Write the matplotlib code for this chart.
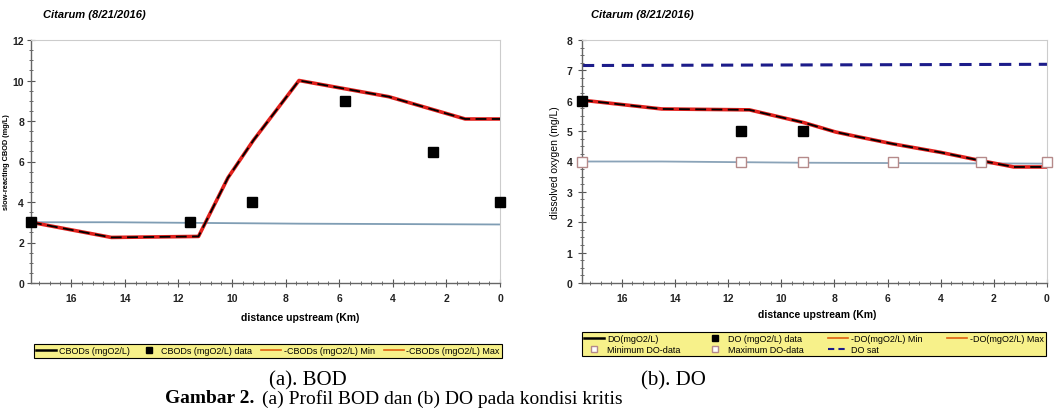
import matplotlib.pyplot as plt
from matplotlib.lines import Line2D
from matplotlib.ticker import MultipleLocator

plt.rcParams['font.family'] = ['Liberation Sans Narrow', 'Liberation Sans', 'DejaVu Sans']

# BOD panel
bod_model_x = [17.5, 14.5, 11.25, 10.15, 9.2, 7.5, 4.15, 1.3, 0.0]
bod_model_y = [3.0, 2.25, 2.3, 5.2, 7.05, 10.0, 9.2, 8.1, 8.1]
bod_data_x = [17.5, 11.55, 9.25, 5.8, 2.5, 0.0]
bod_data_y = [3.0, 3.0, 4.0, 9.0, 6.45, 4.0]
bod_base_x = [17.5, 14.5, 7.5, 0.0]
bod_base_y = [3.0, 3.0, 2.93, 2.89]

# DO panel
do_model_x = [17.5, 14.5, 11.2, 9.15, 7.95, 7.2, 5.8, 4.0, 2.5, 1.25, 0.0]
do_model_y = [6.02, 5.73, 5.7, 5.28, 4.97, 4.83, 4.58, 4.3, 4.03, 3.82, 3.82]
do_data_x = [17.5, 11.5, 9.2]
do_data_y = [6.0, 5.0, 5.0]
do_minmax_x = [17.5, 11.5, 9.2, 5.8, 2.5, 0.0]
do_minmax_y = [4.0, 4.0, 4.0, 4.0, 4.0, 4.0]
do_base_x = [17.5, 14.5, 9.2, 0.0]
do_base_y = [4.0, 4.0, 3.96, 3.93]
do_sat_x = [17.5, 0.0]
do_sat_y = [7.16, 7.2]

W, H = 1061, 410
fig = plt.figure(figsize=(W / 100, H / 100), dpi=100)

def px_box(x0, x1, ytop, ybot):
    return [x0 / W, 1 - ybot / H, (x1 - x0) / W, (ybot - ytop) / H]

ax1 = fig.add_axes(px_box(31, 500, 41, 284))
ax2 = fig.add_axes(px_box(582, 1047, 41, 284))

red = '#e0201c'
legend_bg = '#f7f18a'


def style_axes(ax, ymax, ymajor, yminor, ypad):
    ax.set_xlim(17.5, 0)
    ax.set_ylim(0, ymax)
    ax.xaxis.set_major_locator(MultipleLocator(2))
    ax.xaxis.set_minor_locator(MultipleLocator(0.4))
    ax.yaxis.set_major_locator(MultipleLocator(ymajor))
    ax.yaxis.set_minor_locator(MultipleLocator(yminor))
    ax.tick_params(axis='both', which='major', direction='inout', length=6,
                   width=0.8, color='#555555', labelsize=7.5)
    ax.tick_params(axis='x', which='major', pad=4)
    ax.tick_params(axis='y', which='major', pad=ypad)
    ax.tick_params(axis='both', which='minor', direction='inout', length=3,
                   width=0.6, color='#555555')
    for s in ['left', 'bottom']:
        ax.spines[s].set_color('#666666')
        ax.spines[s].set_linewidth(1.0)
    for s in ['top', 'right']:
        ax.spines[s].set_color('#cccccc')
        ax.spines[s].set_linewidth(0.8)
    for lab in ax.get_xticklabels() + ax.get_yticklabels():
        lab.set_fontweight('bold')
        lab.set_color('#222222')


# ---- (a) BOD ----
ax1.plot(bod_base_x, bod_base_y, color='#7f9db4', lw=1.3, zorder=2)
ax1.plot(bod_model_x, bod_model_y, color=red, lw=2.6, zorder=3)
ax1.plot(bod_model_x, bod_model_y, color='black', lw=1.3, ls=(0, (6, 3)), zorder=4)
ax1.plot(bod_data_x, bod_data_y, 's', color='black', ms=7.5, zorder=5, clip_on=False)
style_axes(ax1, 12, 2, 0.5, 2)
ax1.set_ylabel('slow-reacting CBOD (mg/L)', fontsize=5.3, fontweight='bold')
ax1.yaxis.set_label_coords(-21 / 469, 0.5)

# ---- (b) DO ----
ax2.plot(do_sat_x, do_sat_y, color='#1c1c8a', lw=2.2, ls=(0, (4, 2.5)), zorder=2)
ax2.plot(do_base_x, do_base_y, color='#8aa3b8', lw=1.3, zorder=2)
ax2.plot(do_model_x, do_model_y, color=red, lw=2.6, zorder=3)
ax2.plot(do_model_x, do_model_y, color='black', lw=1.3, ls=(0, (6, 3)), zorder=4)
ax2.plot(do_minmax_x, do_minmax_y, 's', mfc='white', mec='#b58a8a', mew=1.0, ms=7,
         zorder=5, clip_on=False)
ax2.plot(do_data_x, do_data_y, 's', color='black', ms=7.5, zorder=6, clip_on=False)
style_axes(ax2, 8, 1, 0.25, 4)
ax2.set_ylabel('dissolved oxygen (mg/L)', fontsize=7.5)
ax2.yaxis.set_label_coords(-22 / 465, 0.5)

# titles and x labels
fig.text(43 / W, 1 - 15 / H, 'Citarum (8/21/2016)', fontsize=8, fontweight='bold',
         style='italic', va='center', ha='left')
fig.text(591 / W, 1 - 15 / H, 'Citarum (8/21/2016)', fontsize=8, fontweight='bold',
         style='italic', va='center', ha='left')
fig.text(300 / W, 1 - 318 / H, 'distance upstream (Km)', fontsize=7.5,
         fontweight='bold', ha='center', va='center')
fig.text(817 / W, 1 - 315 / H, 'distance upstream (Km)', fontsize=7.5,
         fontweight='bold', ha='center', va='center')

# legends
h_line = Line2D([], [], color='black', lw=1.8)
h_data = Line2D([], [], ls='none', marker='s', color='black', ms=4)
h_min = Line2D([], [], color='#e06010', lw=1.2)
h_max = Line2D([], [], color='#e06010', lw=1.2)
h_open = Line2D([], [], ls='none', marker='s', mfc='white', mec='#b58a8a', ms=4)
h_sat = Line2D([], [], color='#1c1c8a', lw=1.5, ls=(0, (3, 2)))

leg1 = fig.legend([h_line, h_data, h_min, h_max],
                  ['CBODs (mgO2/L)', 'CBODs (mgO2/L) data',
                   '-CBODs (mgO2/L) Min', '-CBODs (mgO2/L) Max'],
                  loc='center', bbox_to_anchor=(268 / W, 1 - 352 / H), ncol=4,
                  fontsize=6.5, frameon=True, fancybox=False, handlelength=2.2,
                  handletextpad=0.3, columnspacing=1.0, borderpad=0.25)
leg1.get_frame().set_facecolor(legend_bg)
leg1.get_frame().set_edgecolor('black')
leg1.get_frame().set_linewidth(0.8)
leg1.get_frame().set_alpha(1)

leg2 = fig.legend([h_line, h_open, h_data, h_open, h_min, h_sat, h_max],
                  ['DO(mgO2/L)', 'Minimum DO-data', 'DO (mgO2/L) data',
                   'Maximum DO-data', '-DO(mgO2/L) Min', 'DO sat', '-DO(mgO2/L) Max'],
                  loc='center', bbox_to_anchor=(814 / W, 1 - 345 / H), ncol=4,
                  fontsize=6.5, frameon=True, fancybox=False, handlelength=2.2,
                  handletextpad=0.3, columnspacing=2.75, borderpad=0.25,
                  labelspacing=0.25)
leg2.get_frame().set_facecolor(legend_bg)
leg2.get_frame().set_edgecolor('black')
leg2.get_frame().set_linewidth(0.8)
leg2.get_frame().set_alpha(1)

# captions
serif = ['Liberation Serif', 'DejaVu Serif']
fig.text(308 / W, 1 - 381 / H, '(a). BOD', fontsize=15, family=serif,
         ha='center', va='center')
fig.text(673 / W, 1 - 381 / H, '(b). DO', fontsize=15, family=serif,
         ha='center', va='center')
fig.text(165 / W, 1 - 399 / H, 'Gambar 2.', fontsize=14, family=serif,
         fontweight='bold', ha='left', va='center')
fig.text(262 / W, 1 - 399 / H, '(a) Profil BOD dan (b) DO pada kondisi kritis',
         fontsize=14, family=serif, ha='left', va='center')

fig.savefig('out.png', dpi=100)
